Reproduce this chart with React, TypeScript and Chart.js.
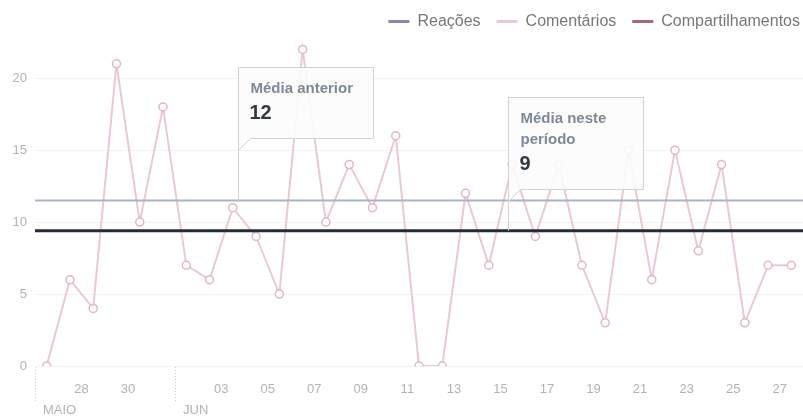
import React, { useEffect, useRef } from 'react';
import { Chart, registerables } from 'chart.js';

Chart.register(...registerables);

// ---------- data ----------
const dias = [
  '26', '27', '28', '29', '30', '31',
  '01', '02', '03', '04', '05', '06', '07', '08', '09', '10',
  '11', '12', '13', '14', '15', '16', '17', '18', '19', '20',
  '21', '22', '23', '24', '25', '26', '27',
];
const comentarios = [
  0, 6, 4, 21, 10, 18,
  7, 6, 11, 9, 5, 22, 10, 14, 11, 16,
  0, 0, 12, 7, 14, 9, 14, 7, 3, 15,
  6, 15, 8, 14, 3, 7, 7,
];
const reacoes: number[] = [];
const compartilhamentos: number[] = [];
const meses = ['MAIO', 'JUN'];
const inicioMes = [0, 6];
const mediaAnterior = 11.5;
const mediaAtual = 9.4;
const tituloMediaAnterior = ['Média anterior'];
const valorMediaAnterior = '12';
const tituloMediaAtual = ['Média neste', 'período'];
const valorMediaAtual = '9';
const yMax = 23;
const yStep = 5;

// ---------- style ----------
const FONT = "'Liberation Sans', Arial, sans-serif";
const COR_REACOES = '#8a86b6';
const COR_COMENT = '#ebc9d3';
const COR_COMENT_PONTO = '#e2b6c4';
const COR_COMPART = '#a76584';
const COR_MEDIA_ANT = '#aab5c0';
const COR_MEDIA_ATUAL = '#242b39';
const COR_TICK = '#b3b3b3';

// callout placement in scale units (x = day position, y = box top)
const callouts = [
  { titulo: tituloMediaAnterior, valor: valorMediaAnterior, media: mediaAnterior, x: 8.72, topo: 20.8 },
  { titulo: tituloMediaAtual, valor: valorMediaAtual, media: mediaAtual, x: 20.33, topo: 18.72 },
];

const calloutPlugin = {
  id: 'callouts',
  afterDatasetsDraw(chart: any) {
    const { ctx, scales } = chart;
    const xs = scales.x;
    const ys = scales.y;
    ctx.save();
    callouts.forEach((c) => {
      const L = Math.round(xs.getPixelForValue(c.x)) + 0.5;
      const T = Math.round(ys.getPixelForValue(c.topo)) + 0.5;
      const lineY = ys.getPixelForValue(c.media);
      const W = 135;
      const n = c.titulo.length;
      const H = Math.round(21 + (n - 1) * 21 + 24.5 + 25);
      const B = T + H;
      const tail = 12;
      ctx.beginPath();
      ctx.moveTo(L, T);
      ctx.lineTo(L + W, T);
      ctx.lineTo(L + W, B);
      ctx.lineTo(L + tail, B);
      ctx.lineTo(L, B + tail);
      ctx.closePath();
      ctx.fillStyle = 'rgba(252,252,252,0.9)';
      ctx.fill();
      ctx.strokeStyle = '#d2d2d2';
      ctx.lineWidth = 1;
      ctx.stroke();
      ctx.beginPath();
      ctx.moveTo(L, B + tail);
      ctx.lineTo(L, lineY);
      ctx.stroke();
      ctx.textAlign = 'left';
      ctx.textBaseline = 'middle';
      ctx.fillStyle = '#7f8995';
      ctx.font = `bold 15px ${FONT}`;
      let y = T + 21;
      c.titulo.forEach((t, i) => {
        ctx.fillText(t, L + 12, y + i * 21);
      });
      y += (n - 1) * 21 + 24.5;
      ctx.fillStyle = '#333944';
      ctx.font = `bold 20px ${FONT}`;
      ctx.fillText(c.valor, L + 11, y);
    });
    ctx.restore();
  },
};

const monthPlugin = {
  id: 'months',
  afterDraw(chart: any) {
    const { ctx, scales, chartArea } = chart;
    const xs = scales.x;
    ctx.save();
    meses.forEach((m, i) => {
      const x = Math.round(xs.getPixelForValue(inicioMes[i])) + 0.5;
      ctx.beginPath();
      ctx.setLineDash([1, 2]);
      ctx.strokeStyle = '#cccccc';
      ctx.lineWidth = 1;
      ctx.moveTo(x, chartArea.bottom + 1);
      ctx.lineTo(x, chartArea.bottom + 37);
      ctx.stroke();
      ctx.setLineDash([]);
      ctx.fillStyle = COR_TICK;
      ctx.font = `13px ${FONT}`;
      ctx.textAlign = 'left';
      ctx.textBaseline = 'middle';
      ctx.fillText(m, x + 7.5, chartArea.bottom + 44);
    });
    ctx.restore();
  },
};

const legendPlacement = {
  id: 'legendPlacement',
  beforeLayout(chart: any) {
    const lg = chart.legend;
    if (lg && !lg.__patched) {
      const fit = lg.fit.bind(lg);
      lg.fit = () => {
        fit();
        lg.height = 35;
      };
      lg.__patched = true;
    }
  },
  afterLayout(chart: any) {
    const lg = chart.legend;
    if (!lg) return;
    const pad = lg.options.labels.padding;
    lg.right = chart.width + pad - 3;
    lg.top = 21.5 - pad - 8;
  },
};

export default function App() {
  const ref = useRef<HTMLCanvasElement | null>(null);

  useEffect(() => {
    if (!ref.current) return;
    const pontos = comentarios.map((v, i) => ({ x: i + 0.5, y: v }));
    const chart = new Chart(ref.current, {
      type: 'line',
      data: {
        datasets: [
          {
            label: 'Reações',
            data: reacoes.map((v, i) => ({ x: i + 0.5, y: v })),
            borderColor: COR_REACOES,
            backgroundColor: COR_REACOES,
            order: 1,
          },
          {
            label: 'Comentários',
            data: pontos,
            borderColor: COR_COMENT,
            backgroundColor: COR_COMENT,
            borderWidth: 2,
            pointRadius: 4,
            pointBorderWidth: 1.5,
            pointBorderColor: COR_COMENT_PONTO,
            pointBackgroundColor: '#ffffff',
            tension: 0,
            order: 1,
          },
          {
            label: 'Compartilhamentos',
            data: compartilhamentos.map((v, i) => ({ x: i + 0.5, y: v })),
            borderColor: COR_COMPART,
            backgroundColor: COR_COMPART,
            order: 1,
          },
          {
            label: 'mediaAnterior',
            data: [
              { x: 0, y: mediaAnterior },
              { x: dias.length, y: mediaAnterior },
            ],
            borderColor: COR_MEDIA_ANT,
            borderWidth: 2,
            pointRadius: 0,
            order: -1,
          },
          {
            label: 'mediaAtual',
            data: [
              { x: 0, y: mediaAtual },
              { x: dias.length, y: mediaAtual },
            ],
            borderColor: COR_MEDIA_ATUAL,
            borderWidth: 3,
            pointRadius: 0,
            order: -1,
          },
        ],
      },
      options: {
        responsive: false,
        animation: false,
        devicePixelRatio: 1,
        layout: { padding: 0, autoPadding: false },
        font: { family: FONT },
        scales: {
          x: {
            type: 'linear',
            min: 0,
            max: dias.length,
            grid: { display: false, drawTicks: true, tickLength: 16 },
            border: { display: false },
            ticks: {
              stepSize: 1,
              autoSkip: false,
              maxRotation: 0,
              padding: 0,
              color: COR_TICK,
              font: { size: 13, family: FONT },
              callback: (v: any) => {
                const k = Number(v);
                if (k % 2 !== 0 || inicioMes.includes(k) || k >= dias.length) return '';
                return dias[k];
              },
            },
            afterFit: (s: any) => {
              s.height = 53;
            },
          },
          y: {
            min: 0,
            max: yMax,
            grid: { color: '#f3f3f3', drawTicks: false },
            border: { display: false },
            ticks: {
              stepSize: yStep,
              includeBounds: false,
              padding: 8,
              color: COR_TICK,
              font: { size: 13, family: FONT },
            },
            afterFit: (s: any) => {
              s.width = 35;
            },
          },
        },
        plugins: {
          tooltip: { enabled: false },
          legend: {
            position: 'top',
            align: 'end',
            labels: {
              color: '#787878',
              font: { size: 16, family: FONT },
              boxWidth: 21,
              boxHeight: 3,
              padding: 16,
              filter: (item: any) => !item.text.startsWith('media'),
              generateLabels: (ch: any) => {
                const base = Chart.defaults.plugins.legend.labels.generateLabels(ch);
                return base.map((it: any) => ({
                  ...it,
                  fillStyle: ch.data.datasets[it.datasetIndex].borderColor,
                  lineWidth: 0,
                }));
              },
            },
          },
        },
      },
      plugins: [legendPlacement, calloutPlugin, monthPlugin],
    } as any);
    return () => chart.destroy();
  }, []);

  return (
    <div style={{ position: 'fixed', left: 0, top: 0, width: 803, height: 419, background: '#fff' }}>
      <canvas ref={ref} width={803} height={419} />
    </div>
  );
}
